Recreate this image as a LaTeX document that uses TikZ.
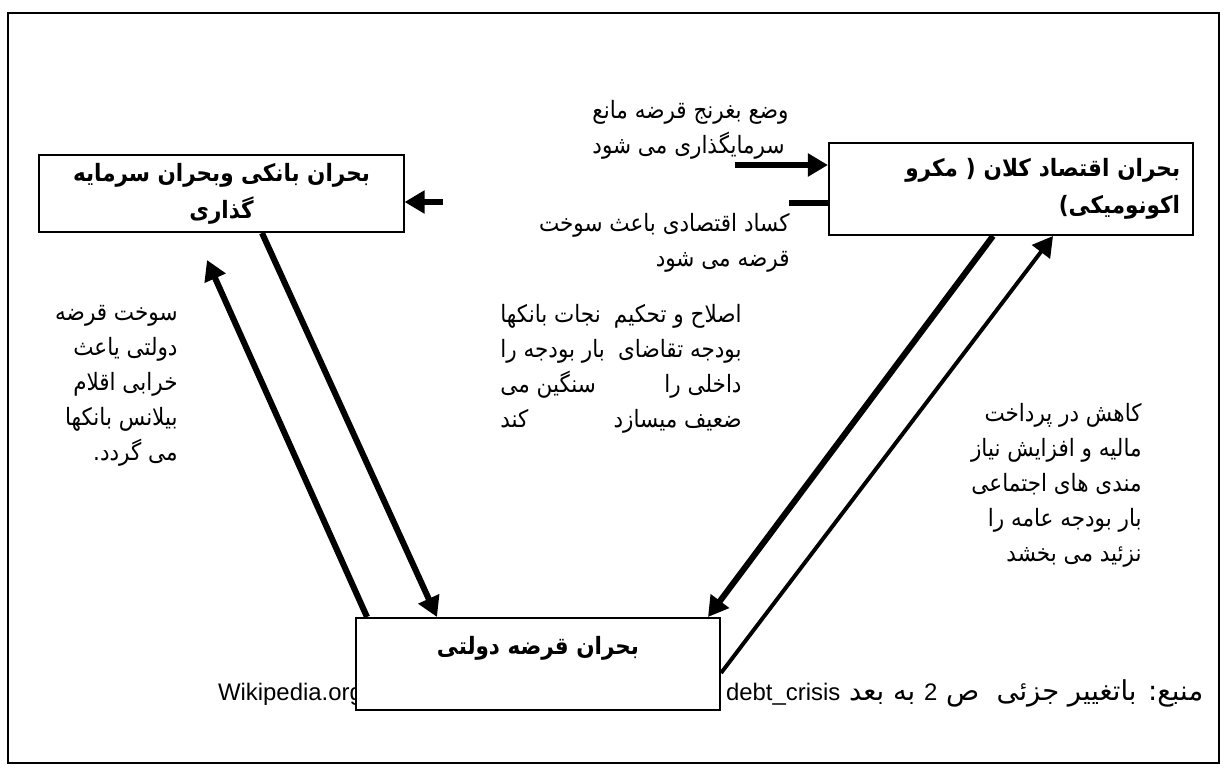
\documentclass[tikz,border=0pt]{standalone}
\usepackage{fontspec}
\setmainfont{Liberation Sans}
\newfontfamily\farsi[Script=Arabic,FakeStretch=0.9]{DejaVu Sans}
\newfontfamily\farsiwide[Script=Arabic]{DejaVu Sans}
\TeXXeTstate=1
\usetikzlibrary{positioning,arrows.meta,calc}
\tikzset{>={Triangle[length=0.5cm,width=0.55cm]}}
\newcommand{\fa}[1]{{\farsi\beginR #1\endR}}

\begin{document}
\begin{tikzpicture}[x=0.025cm,y=-0.025cm,
                    every node/.style={font=\fontsize{17}{24.9}\selectfont},
                    semithick]
      \tikzstyle{crisis}=[draw=black,line width=1.4pt,fill=white,minimum width=9.1cm,
                          font=\fontsize{17}{26.3}\selectfont\bfseries]
      \tikzstyle{note}=[inner sep=0pt]
      \tikzstyle{heavy}=[line width=4.3pt]
      \tikzstyle{light}=[line width=2.8pt]

      \useasboundingbox (0,0) rectangle (1227,776);
      \draw[line width=1.8pt] (8,13) rectangle (1219,763);

      % source line, partly hidden by the box
      \node[anchor=base east] (wiki) at (368,700) {Wikipedia.org};
      \node[anchor=base west] (src)  at (721,700)
           {{\fontsize{19.5}{24.9}\selectfont\farsiwide\beginR منبع: باتغییر جزئی \ ص {\rmfamily\fontsize{17}{24.9}\selectfont 2} به بعد
             \beginL{\rmfamily\fontsize{17}{24.9}\selectfont debt\_crisis}\endL\endR}};

      \node[crisis,minimum height=1.925cm,align=center] (bank)  at (221.5,193.5)
           {\fa{بحران بانکی وبحران سرمایه}\\\fa{گذاری}};
      \node[crisis,minimum height=2.3cm,text width=8.45cm,align=right] (macro) at (1011,189)
           {\fa{بحران اقتصاد کلان ( مکرو}\\\fa{اکونومیکی)}};
      \node[crisis,minimum height=2.3cm,align=center] (debt)  at (538,664)
           {\fa{بحران قرضه دولتی}\\ \mbox{}};

      \node[note,anchor=north west,align=left] (stall)   at (592,100)
           {\fa{وضع بغرنج قرضه مانع}\\\fa{سرمایگذاری می شود}};
      \node[note,anchor=north east,align=right] (slump)  at (790,213)
           {\fa{کساد اقتصادی باعث سوخت}\\\fa{قرضه می شود}};
      \node[note,anchor=north east,align=right] (reform) at (742,304)
           {\fa{اصلاح و تحکیم}\\\fa{بودجه تقاضای}\\\fa{داخلی را}\\\fa{ضعیف میسازد}};
      \node[note,anchor=north west,align=left] (rescue)  at (500,304)
           {\fa{نجات بانکها}\\\fa{بار بودجه را}\\\fa{سنگین می}\\\fa{کند}};
      \node[note,anchor=north east,align=right] (burn)   at (178,305)
           {\fa{سوخت قرضه}\\\fa{دولتی یاعث}\\\fa{خرابی اقلام}\\\fa{بیلانس بانکها}\\\fa{می گردد.}};
      \node[note,anchor=north east,align=right] (cuts)   at (1142,403)
           {\fa{کاهش در پرداخت}\\\fa{مالیه و افزایش نیاز}\\\fa{مندی های اجتماعی}\\\fa{بار بودجه عامه را}\\\fa{نزئید می بخشد}};

      \coordinate (stallTail) at (735,165);
      \coordinate (slumpEnd)  at (789,203);
      \coordinate (slumpHead) at (443,202);
      \coordinate (burnTip)   at (207,260);

      \path (stallTail)              edge[->,heavy] (stallTail -| macro.west)
            (slumpEnd -| macro.west) edge[heavy]    (slumpEnd)
            (slumpHead)              edge[->,heavy] (slumpHead -| bank.east)
            (262,0 |- bank.south)    edge[->,heavy] (437,0 |- debt.north)
            (367,0 |- debt.north)    edge[->,heavy] (burnTip)
            (993,0 |- macro.south)   edge[->,heavy] (708,0 |- debt.north)
            (debt.east |- 0,673)     edge[->,light] (1053,0 |- macro.south);
\end{tikzpicture}
\end{document}
